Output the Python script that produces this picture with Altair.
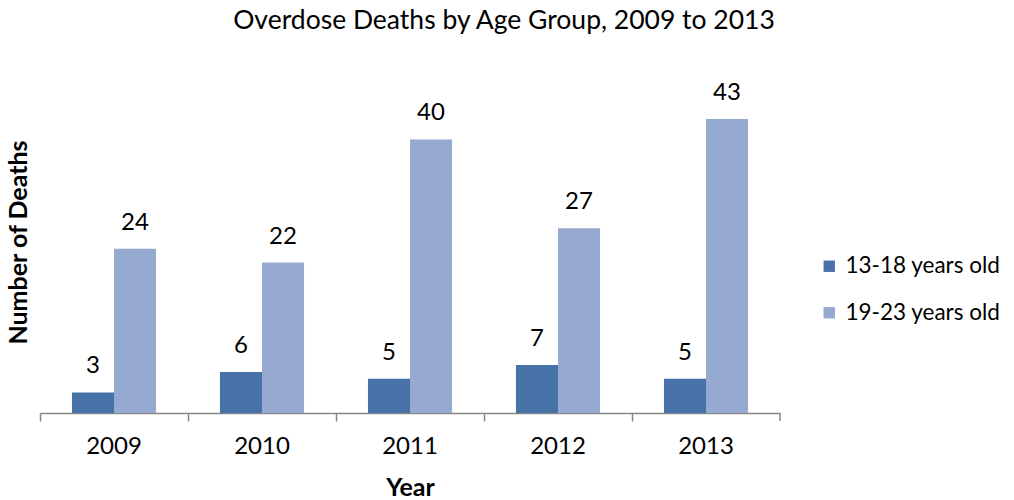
import altair as alt
import pandas as pd

years = ["2009", "2010", "2011", "2012", "2013"]
groups = ["13-18 years old", "19-23 years old"]
teen = [3, 6, 5, 7, 5]
young = [24, 22, 40, 27, 43]
colors = ["#4672A8", "#95A9D1"]

rows = []
for i, y in enumerate(years):
    rows.append({"Year": y, "Group": groups[0], "Deaths": teen[i]})
    rows.append({"Year": y, "Group": groups[1], "Deaths": young[i]})
df = pd.DataFrame(rows)

W, H = 740, 342
FONT = "Lato"

x = alt.X("Year:N", sort=years, title="Year",
          scale=alt.Scale(paddingInner=0, paddingOuter=0),
          axis=alt.Axis(labelAngle=0, labelFontSize=24, labelFont=FONT, labelColor="#000",
                        labelPadding=13, titleFont=FONT, titleFontSize=25, titleFontWeight="bold",
                        titleColor="#000", titlePadding=17, domainColor="#888", tickColor="#888",
                        tickSize=8, bandPosition=0, domainWidth=1.5, tickWidth=1.5))
xo = alt.XOffset("Group:N", sort=groups, scale=alt.Scale(paddingOuter=0.76, paddingInner=0))
y = alt.Y("Deaths:Q", scale=alt.Scale(domain=[0, 50]), title="Number of Deaths",
          axis=alt.Axis(labels=False, ticks=False, domain=False, grid=False,
                        titleFont=FONT, titleFontSize=25, titleFontWeight="bold",
                        titleColor="#000", titlePadding=9))
color = alt.Color("Group:N", sort=groups, scale=alt.Scale(domain=groups, range=colors),
                  legend=alt.Legend(title=None, orient="none", legendX=778, legendY=184,
                                    symbolType="square", symbolSize=130, symbolStrokeWidth=0,
                                    labelFont=FONT, labelFontSize=22.5, labelColor="#000",
                                    rowPadding=23.5, labelOffset=5))

base = alt.Chart(df)
bars = base.mark_bar(stroke=None).encode(x=x, xOffset=xo, y=y, color=color)
labels = base.mark_text(baseline="middle", dy=-26, fontSize=24, font=FONT, color="#000").encode(
    x=alt.X("Year:N", sort=years), xOffset=xo, y="Deaths:Q", text="Deaths:Q")
endtick = alt.Chart(pd.DataFrame({"v": [0]})).mark_rule(color="#888", strokeWidth=1.5).encode(
    x=alt.value(W), y=alt.value(H), y2=alt.value(H + 8))

chart = alt.layer(bars, labels, endtick).properties(
    width=W, height=H, background="white",
    title=alt.TitleParams("Overdose Deaths by Age Group, 2009 to 2013", font=FONT, fontSize=26.5,
                          fontWeight="normal", color="#000", offset=37, anchor="middle", dx=94),
    padding={"left": 40, "top": 71, "right": 234, "bottom": 87},
    autosize=alt.AutoSizeParams(type="none"),
).configure_view(strokeWidth=0, stroke="transparent")

chart.save("out.html", embed_options={"renderer": "svg", "actions": False})
